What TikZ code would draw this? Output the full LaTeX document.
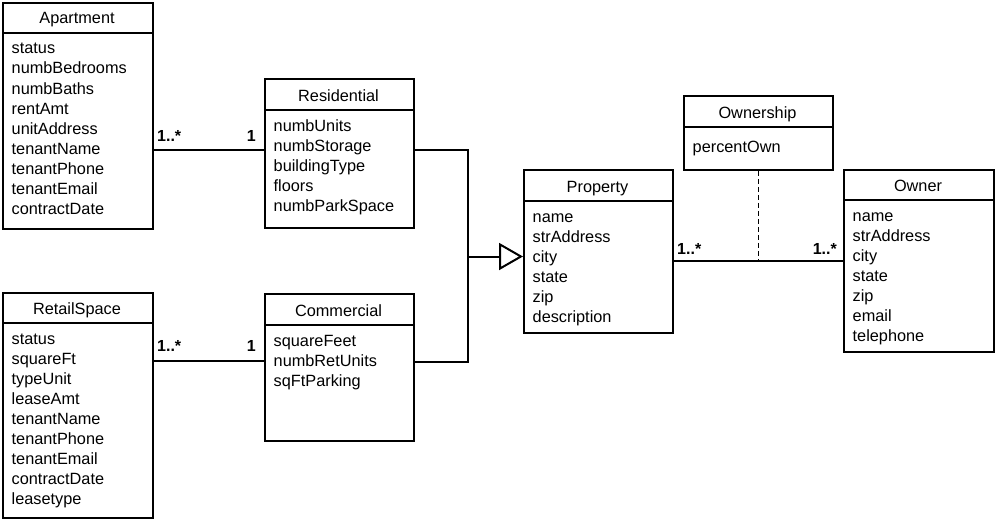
\documentclass[tikz,border=0pt]{standalone}
\usepackage{fontspec}
\setmainfont{Liberation Sans}
\usetikzlibrary{arrows.meta}
\tikzset{
  box/.style={draw, line width=1.8pt, anchor=north west, inner sep=0pt, fill=white},
  divline/.style={line width=1.8pt},
  ttl/.style={anchor=base, inner sep=0pt, font=\fontsize{16.3}{20}\selectfont},
  attr/.style={anchor=base west, inner sep=0pt, font=\fontsize{16.3}{20}\selectfont},
  mult/.style={inner sep=0pt, font=\fontsize{16}{20}\selectfont\bfseries},
  conn/.style={line width=2pt},
  dashconn/.style={line width=1.8pt, dash pattern=on 5pt off 3pt},
  genarrow/.style={line width=2pt, -{Triangle[open, length=24pt, width=27pt]}}
}
% #1 name, #2 left, #3 top, #4 right, #5 divider y, #6 bottom, #7 title, #8 attributes, #9 first-baseline offset
\newcommand\umlcls[9]{%
  \node[box, minimum width={#4-#2}, minimum height={#6-#3}] (#1) at (#2,#3) {};
  \draw[divline] (#1.west |- 0,#5) -- (#1.east |- 0,#5);
  \node[ttl] (#1-t) at ({(#2+#4)/2},{#5-9}) {#7};
  \foreach \t [count=\i] in {#8} \node[attr] (#1-\i) at ({#2+9.5},{#5+#9+20*(\i-1)}) {\t};
}
\begin{document}
\begin{tikzpicture}[x=1pt,y=-1pt]
\useasboundingbox (0,0) rectangle (995,519);
\umlcls{apt}{2}{2}{152}{33}{228}{Apartment}{status,numbBedrooms,numbBaths,rentAmt,unitAddress,tenantName,tenantPhone,tenantEmail,contractDate}{21}
\umlcls{res}{264}{78}{413}{110}{227}{Residential}{numbUnits,numbStorage,buildingType,floors,numbParkSpace}{21}
\umlcls{ret}{2}{292}{152}{323}{517}{RetailSpace}{status,squareFt,typeUnit,leaseAmt,tenantName,tenantPhone,tenantEmail,contractDate,leasetype}{21}
\umlcls{com}{264}{293}{413}{325}{440}{Commercial}{squareFeet,numbRetUnits,sqFtParking}{21}
\umlcls{prop}{523}{169}{672}{201}{332}{Property}{name,strAddress,city,state,zip,description}{21}
\umlcls{osh}{683}{95}{832}{127}{169}{Ownership}{percentOwn}{25}
\umlcls{own}{843}{169}{993}{200}{351}{Owner}{name,strAddress,city,state,zip,email,telephone}{21}

% association Apartment - Residential
\coordinate (a1) at (0,149.5);
\draw[conn] (apt.east |- a1) -- (res.west |- a1);
\node[mult, anchor=base west] (m1) at (157,141.5) {1..*};
\node[mult, anchor=base east] (m2) at (256,141.5) {1};

% association RetailSpace - Commercial
\coordinate (a2) at (0,361);
\draw[conn] (ret.east |- a2) -- (com.west |- a2);
\node[mult, anchor=base west] (m3) at (157,351.5) {1..*};
\node[mult, anchor=base east] (m4) at (256,351.5) {1};

% generalization
\coordinate (gj) at (468,256.5);
\coordinate (gr) at (0,150);
\coordinate (gc) at (0,362);
\draw[conn] (res.east |- gr) -| (gj) |- (com.east |- gc);
\draw[genarrow] (gj) -- (prop.west |- gj);

% association Property - Owner
\coordinate (a3) at (0,260.5);
\draw[conn] (prop.east |- a3) -- (own.west |- a3);
\draw[dashconn] (osh.south) -- (osh.south |- a3);
\node[mult, anchor=base west] (m5) at (677,254) {1..*};
\node[mult, anchor=base east] (m6) at (837,254) {1..*};
\end{tikzpicture}
\end{document}
